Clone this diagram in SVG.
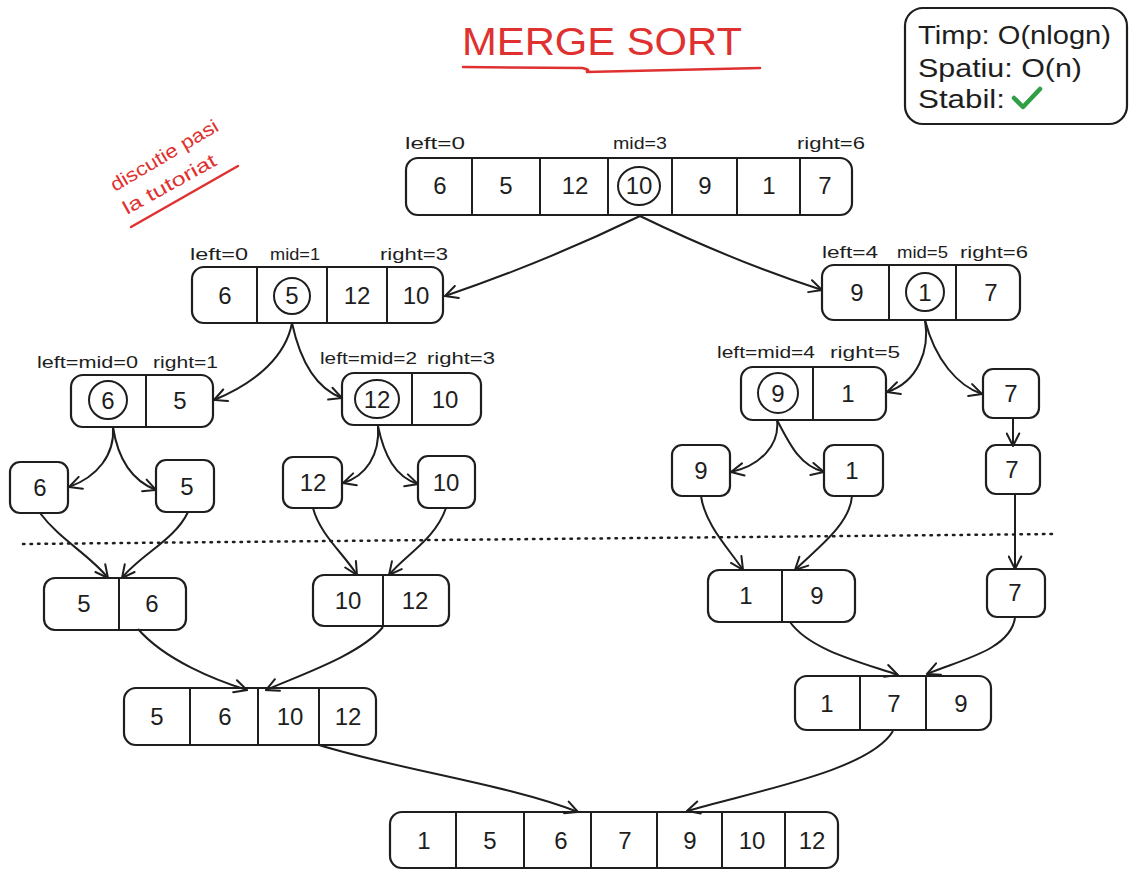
<svg xmlns="http://www.w3.org/2000/svg" width="1136" height="880" viewBox="0 0 1136 880">
<style>
.box{fill:none;stroke:#1e1e1e;stroke-width:2.2}
.div{stroke:#1e1e1e;stroke-width:2}
.v{font-family:"Liberation Sans",Arial,sans-serif;font-size:24px;fill:#1e1e1e;text-anchor:middle}
.lb{font-family:"Liberation Sans",Arial,sans-serif;font-size:17px;fill:#1e1e1e}
.cir{fill:none;stroke:#1e1e1e;stroke-width:2}
.con{fill:none;stroke:#1e1e1e;stroke-width:2;marker-end:url(#ah)}
.red{font-family:"Liberation Sans",Arial,sans-serif;fill:#e03131}
.info{font-family:"Liberation Sans",Arial,sans-serif;font-size:26px;fill:#1e1e1e}
</style>
<defs>
<marker id="ah" viewBox="0 0 12 12" refX="11" refY="6" markerWidth="15" markerHeight="15" markerUnits="userSpaceOnUse" orient="auto">
<path d="M1,1 L11,6 L1,11" fill="none" stroke="#1e1e1e" stroke-width="1.6" stroke-linecap="round"/>
</marker>
</defs>
<rect width="1136" height="880" fill="#ffffff"/>

<g id="title">
<text class="red" x="462" y="55" font-size="39" textLength="280" lengthAdjust="spacingAndGlyphs">MERGE SORT</text>
<path d="M463,67 L582,68 Q592,70 586,72 L760,68" fill="none" stroke="#e03131" stroke-width="2.5" stroke-linecap="round"/>
</g>

<g id="complexity">
<rect x="905" y="8" width="222" height="116" rx="18" class="box"/>
<text class="info" x="918" y="44" textLength="193" lengthAdjust="spacingAndGlyphs">Timp: O(nlogn)</text>
<text class="info" x="918" y="77" textLength="164" lengthAdjust="spacingAndGlyphs">Spatiu: O(n)</text>
<text class="info" x="918" y="108" textLength="87" lengthAdjust="spacingAndGlyphs">Stabil:</text>
<path d="M1014,98 L1023,107 L1040,89" fill="none" stroke="#2f9e44" stroke-width="4.5" stroke-linecap="round" stroke-linejoin="round"/>
</g>

<g id="note">
<text class="red" font-size="19" transform="translate(115,192) rotate(-30.6)" textLength="122" lengthAdjust="spacingAndGlyphs">discutie pasi</text>
<text class="red" font-size="19" transform="translate(127,215) rotate(-29)" textLength="104" lengthAdjust="spacingAndGlyphs">la tutoriat</text>
<path d="M131,227 L238,166" stroke="#e03131" stroke-width="2.5" stroke-linecap="round" fill="none"/>
</g>

<g id="top">
<text class="lb" x="405" y="149" textLength="60" lengthAdjust="spacingAndGlyphs">left=0</text>
<text class="lb" x="613" y="149" textLength="54" lengthAdjust="spacingAndGlyphs">mid=3</text>
<text class="lb" x="797" y="149" textLength="68" lengthAdjust="spacingAndGlyphs">right=6</text>
<rect x="406" y="158" width="446" height="57" rx="12" class="box"/>
<path class="div" d="M472,158V215M540,158V215M608,158V215M672,158V215M737,158V215M800,158V215"/>
<text class="v" x="440" y="194">6</text>
<text class="v" x="506" y="194">5</text>
<text class="v" x="575" y="194">12</text>
<ellipse class="cir" cx="639" cy="186" rx="21" ry="19"/>
<text class="v" x="639" y="194">10</text>
<text class="v" x="705" y="194">9</text>
<text class="v" x="769" y="194">1</text>
<text class="v" x="825" y="194">7</text>
</g>

<g id="l2left">
<text class="lb" x="190" y="260" textLength="58" lengthAdjust="spacingAndGlyphs">left=0</text>
<text class="lb" x="270" y="260" textLength="50" lengthAdjust="spacingAndGlyphs">mid=1</text>
<text class="lb" x="380" y="260" textLength="68" lengthAdjust="spacingAndGlyphs">right=3</text>
<rect x="192" y="267" width="251" height="56" rx="12" class="box"/>
<path class="div" d="M257,267V323M327,267V323M387,267V323"/>
<text class="v" x="225" y="304">6</text>
<circle class="cir" cx="292" cy="296" r="18"/>
<text class="v" x="292" y="304">5</text>
<text class="v" x="357" y="304">12</text>
<text class="v" x="416" y="304">10</text>
</g>

<g id="l2right">
<text class="lb" x="822" y="258" textLength="56" lengthAdjust="spacingAndGlyphs">left=4</text>
<text class="lb" x="897" y="258" textLength="51" lengthAdjust="spacingAndGlyphs">mid=5</text>
<text class="lb" x="960" y="258" textLength="68" lengthAdjust="spacingAndGlyphs">right=6</text>
<rect x="822" y="265" width="198" height="55" rx="12" class="box"/>
<path class="div" d="M889,265V320M956,265V320"/>
<text class="v" x="857" y="301">9</text>
<circle class="cir" cx="925" cy="292" r="19"/>
<text class="v" x="925" y="301">1</text>
<text class="v" x="991" y="301">7</text>
</g>

<g id="l3a">
<text class="lb" x="37" y="368" textLength="101" lengthAdjust="spacingAndGlyphs">left=mid=0</text>
<text class="lb" x="153" y="368" textLength="65" lengthAdjust="spacingAndGlyphs">right=1</text>
<rect x="71" y="375" width="142" height="52" rx="12" class="box"/>
<path class="div" d="M146,375V427"/>
<circle class="cir" cx="108" cy="400" r="19"/>
<text class="v" x="108" y="409">6</text>
<text class="v" x="180" y="409">5</text>
</g>

<g id="l3b">
<text class="lb" x="320" y="364" textLength="97" lengthAdjust="spacingAndGlyphs">left=mid=2</text>
<text class="lb" x="427" y="364" textLength="68" lengthAdjust="spacingAndGlyphs">right=3</text>
<rect x="342" y="373" width="139" height="52" rx="12" class="box"/>
<path class="div" d="M412,373V425"/>
<ellipse class="cir" cx="377" cy="399" rx="22" ry="19"/>
<text class="v" x="377" y="408">12</text>
<text class="v" x="445" y="408">10</text>
</g>

<g id="l3c">
<text class="lb" x="717" y="358" textLength="98" lengthAdjust="spacingAndGlyphs">left=mid=4</text>
<text class="lb" x="830" y="358" textLength="70" lengthAdjust="spacingAndGlyphs">right=5</text>
<rect x="741" y="367" width="145" height="53" rx="12" class="box"/>
<path class="div" d="M813,367V420"/>
<circle class="cir" cx="778" cy="393" r="20"/>
<text class="v" x="778" y="402">9</text>
<text class="v" x="848" y="402">1</text>
</g>

<g id="l3d">
<rect x="983" y="369" width="56" height="49" rx="10" class="box"/>
<text class="v" x="1011" y="402">7</text>
</g>

<g id="s6"><rect x="10" y="462" width="58" height="51" rx="10" class="box"/><text class="v" x="40" y="496">6</text></g>
<g id="s5"><rect x="156" y="460" width="58" height="52" rx="10" class="box"/><text class="v" x="187" y="495">5</text></g>
<g id="s12"><rect x="283" y="457" width="59" height="51" rx="10" class="box"/><text class="v" x="313" y="491">12</text></g>
<g id="s10"><rect x="418" y="456" width="57" height="52" rx="10" class="box"/><text class="v" x="446" y="491">10</text></g>
<g id="s9"><rect x="672" y="445" width="58" height="51" rx="10" class="box"/><text class="v" x="701" y="479">9</text></g>
<g id="s1"><rect x="824" y="445" width="59" height="51" rx="10" class="box"/><text class="v" x="852" y="479">1</text></g>
<g id="s7"><rect x="986" y="445" width="54" height="49" rx="10" class="box"/><text class="v" x="1012" y="478">7</text></g>

<path d="M23,544 L1055,534" stroke="#1e1e1e" stroke-width="2.5" stroke-dasharray="1.5 6" stroke-linecap="round" fill="none"/>

<g id="m56">
<rect x="44" y="578" width="142" height="52" rx="11" class="box"/>
<path class="div" d="M119,578V630"/>
<text class="v" x="84" y="612">5</text>
<text class="v" x="152" y="612">6</text>
</g>
<g id="m1012">
<rect x="313" y="575" width="136" height="51" rx="11" class="box"/>
<path class="div" d="M383,575V626"/>
<text class="v" x="348" y="609">10</text>
<text class="v" x="415" y="609">12</text>
</g>
<g id="m19">
<rect x="708" y="570" width="147" height="52" rx="11" class="box"/>
<path class="div" d="M782,570V622"/>
<text class="v" x="746" y="604">1</text>
<text class="v" x="817" y="604">9</text>
</g>
<g id="m7">
<rect x="987" y="569" width="58" height="48" rx="10" class="box"/>
<text class="v" x="1015" y="601">7</text>
</g>

<g id="m561012">
<rect x="124" y="688" width="252" height="57" rx="12" class="box"/>
<path class="div" d="M190,688V745M258,688V745M319,688V745"/>
<text class="v" x="157" y="725">5</text>
<text class="v" x="225" y="725">6</text>
<text class="v" x="290" y="725">10</text>
<text class="v" x="348" y="725">12</text>
</g>
<g id="m179">
<rect x="795" y="676" width="196" height="54" rx="12" class="box"/>
<path class="div" d="M860,676V730M926,676V730"/>
<text class="v" x="827" y="712">1</text>
<text class="v" x="894" y="712">7</text>
<text class="v" x="961" y="712">9</text>
</g>

<g id="final">
<rect x="390" y="812" width="448" height="56" rx="12" class="box"/>
<path class="div" d="M456,812V868M524,812V868M591,812V868M657,812V868M722,812V868M785,812V868"/>
<text class="v" x="424" y="849">1</text>
<text class="v" x="490" y="849">5</text>
<text class="v" x="561" y="849">6</text>
<text class="v" x="625" y="849">7</text>
<text class="v" x="690" y="849">9</text>
<text class="v" x="752" y="849">10</text>
<text class="v" x="812" y="849">12</text>
</g>

<g id="connectors">
<path class="con" d="M640,216 Q545,262 445,296"/>
<path class="con" d="M640,216 Q735,262 822,290"/>
<path class="con" d="M292,323 C286,355 258,382 214,400"/>
<path class="con" d="M292,323 C300,360 315,388 342,398"/>
<path class="con" d="M925,320 C930,350 918,382 887,392"/>
<path class="con" d="M925,320 C935,360 958,386 982,394"/>
<path class="con" d="M113,427 C115,455 97,477 69,487"/>
<path class="con" d="M113,427 C118,460 133,481 156,490"/>
<path class="con" d="M378,426 C380,455 366,476 343,483"/>
<path class="con" d="M378,426 C384,455 395,477 418,484"/>
<path class="con" d="M777,420 C780,445 760,466 731,472"/>
<path class="con" d="M777,420 C790,445 800,466 824,472"/>
<path class="con" d="M1013,418 L1013,446"/>
<path class="con" d="M40,513 C60,540 90,555 108,578"/>
<path class="con" d="M188,512 C175,540 140,555 122,578"/>
<path class="con" d="M313,508 C320,535 345,555 357,575"/>
<path class="con" d="M446,508 C435,540 405,555 389,575"/>
<path class="con" d="M701,496 C705,525 730,550 743,570"/>
<path class="con" d="M852,496 C850,525 815,550 795,570"/>
<path class="con" d="M1015,494 L1015,569"/>
<path class="con" d="M138,629 C165,660 215,680 247,690"/>
<path class="con" d="M383,627 C360,655 300,675 266,690"/>
<path class="con" d="M790,622 C810,650 860,662 898,675"/>
<path class="con" d="M1015,618 C1010,650 960,660 927,674"/>
<path class="con" d="M319,745 C400,770 510,785 578,812"/>
<path class="con" d="M893,731 C870,770 760,790 687,811"/>
</g>
</svg>
